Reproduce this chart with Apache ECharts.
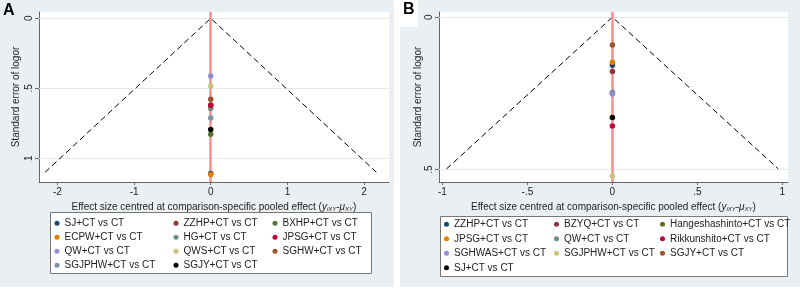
<!DOCTYPE html>
<html>
<head>
<meta charset="utf-8">
<script src="https://cdn.jsdelivr.net/npm/echarts@6/dist/echarts.min.js"></script>
<style>
  html, body { margin: 0; padding: 0; background: #ffffff; }
  #chart { width: 800px; height: 290px; }
</style>
</head>
<body>
<div id="chart"></div>
<script>
// panel A: treatments, standard errors (all effects centred at 0)
const namesA = ['SJ+CT vs CT', 'ZZHP+CT vs CT', 'BXHP+CT vs CT', 'ECPW+CT vs CT', 'HG+CT vs CT', 'JPSG+CT vs CT',
  'QW+CT vs CT', 'QWS+CT vs CT', 'SGHW+CT vs CT', 'SGJPHW+CT vs CT', 'SGJY+CT vs CT'];
const effectA = [0, 0, 0, 0, 0, 0, 0, 0, 0, 0, 0];
const seA = [1.11, 0.62, 0.829, 1.117, 0.645, 0.624, 0.412, 0.484, 0.579, 0.712, 0.795];
const funnelA = [[-2.16, 1.1], [0, 0], [2.16, 1.1]];
const xTicksA = [-2, -1, 0, 1, 2];
const yTicksA = [0, 0.5, 1];

// panel B
const namesB = ['ZZHP+CT vs CT', 'BZYQ+CT vs CT', 'Hangeshashinto+CT vs CT', 'JPSG+CT vs CT', 'QW+CT vs CT',
  'Rikkunshito+CT vs CT', 'SGHWAS+CT vs CT', 'SGJPHW+CT vs CT', 'SGJY+CT vs CT', 'SJ+CT vs CT'];
const effectB = [0, 0, 0, 0, 0, 0, 0, 0, 0, 0];
const seB = [0.158, 0.178, 0.25, 0.148, 0.247, 0.357, 0.252, 0.521, 0.091, 0.329];
const funnelB = [[-0.976, 0.498], [0, 0], [0.976, 0.498]];
const xTicksB = [-1, -0.5, 0, 0.5, 1];
const yTicksB = [0, 0.5];

// stata s2color-like palette
const palette = ['#1a476f', '#90353b', '#55752f', '#e37e00', '#6e8e84', '#c10534', '#938dd2', '#cac27e', '#a0522d', '#7b92a8', '#000000'];
const paletteB = ['#1a476f', '#90353b', '#55752f', '#e37e00', '#6e8e84', '#c10534', '#938dd2', '#cac27e', '#a0522d', '#000000'];

const FONT = '"Liberation Sans", Arial, sans-serif';
const TXT = '#222';
const fmt = (v) => String(v).replace(/^(-?)0\./, '$1.');

const xName = '{t|Effect size centred at comparison-specific pooled effect (}{i|y}{s|iXY}{t|-}{i|μ}{s|XY}{t|)}';
const xNameRich = {
  t: { fontSize: 10, color: TXT, fontFamily: FONT },
  i: { fontSize: 10, color: TXT, fontFamily: FONT, fontStyle: 'italic' },
  s: { fontSize: 6, color: TXT, fontFamily: FONT, fontStyle: 'italic', padding: [5, 0, 0, 0] },
};

function xAxis(idx, min, max, ticks) {
  return {
    gridIndex: idx, type: 'value', min, max,
    name: xName, nameLocation: 'middle', nameGap: 17,
    nameTextStyle: { rich: xNameRich },
    axisLine: { onZero: false, lineStyle: { color: '#666', width: 1 } },
    axisTick: { show: true, length: 3, customValues: ticks, lineStyle: { color: '#666' } },
    axisLabel: { customValues: ticks, formatter: fmt, fontSize: 10, color: TXT, fontFamily: FONT, margin: 5 },
    splitLine: { show: false },
  };
}

function yAxis(idx, min, max, ticks, gap) {
  return {
    gridIndex: idx, type: 'value', min, max, inverse: true,
    name: 'Standard error of logor', nameLocation: 'middle', nameGap: gap, nameRotate: 90,
    nameTextStyle: { fontSize: 10, color: TXT, fontFamily: FONT },
    axisLine: { onZero: false, lineStyle: { color: '#666', width: 1 } },
    axisTick: { show: true, length: 4, customValues: ticks, lineStyle: { color: '#666' } },
    axisLabel: { customValues: ticks, formatter: fmt, rotate: 90, fontSize: 10, color: TXT, fontFamily: FONT, margin: 5 },
    splitLine: { show: false },
  };
}

function panelSeries(idx, prefix, names, effects, ses, colors, funnel, yTicks) {
  const out = [];
  out.push({
    type: 'line', xAxisIndex: idx, yAxisIndex: idx, data: funnel, symbol: 'none', silent: true, z: 2,
    lineStyle: { color: '#000', width: 1, type: [6, 3.5] },
    markLine: {
      z: 1, silent: true, symbol: 'none', label: { show: false },
      lineStyle: { color: '#e3ebee', width: 1, type: 'solid' },
      data: yTicks.map((v) => ({ yAxis: v })),
    },
  });
  out.push({
    type: 'scatter', xAxisIndex: idx, yAxisIndex: idx, data: [], silent: true, z: 3,
    markLine: {
      z: 3, silent: true, symbol: 'none', label: { show: false },
      lineStyle: { color: '#f88e8e', width: 2.5, type: 'solid' },
      data: [{ xAxis: 0 }],
    },
  });
  names.forEach((n, i) => {
    out.push({
      name: prefix + n, type: 'scatter', xAxisIndex: idx, yAxisIndex: idx, z: 6,
      symbol: 'circle', symbolSize: 5.5, itemStyle: { color: colors[i], opacity: 1 },
      data: [[effects[i], ses[i]]],
    });
  });
  return out;
}

function legendCol(prefix, names, idxs, left, top, gap) {
  return {
    orient: 'vertical', left, top, padding: 0, itemGap: gap,
    itemWidth: 5, itemHeight: 5, icon: 'circle', selectedMode: false,
    formatter: (n) => n.slice(2),
    textStyle: { fontSize: 10, lineHeight: 12, color: TXT, fontFamily: FONT },
    data: idxs.map((i) => prefix + names[i]),
  };
}

const chart = echarts.init(document.getElementById('chart'), null, { renderer: 'canvas' });

const option = {
  animation: false,
  backgroundColor: '#ffffff',
  graphic: [
    { type: 'rect', z: -10, shape: { x: 0, y: 0, width: 394, height: 287 }, style: { fill: '#e9eff2' } },
    { type: 'rect', z: -10, shape: { x: 400, y: 0, width: 400, height: 287 }, style: { fill: '#e9eff2' } },
    { type: 'rect', z: -9, shape: { x: 400, y: 0, width: 18, height: 27 }, style: { fill: '#ffffff' } },
    { type: 'rect', z: -5, shape: { x: 50.5, y: 212.5, width: 321, height: 61 }, style: { fill: '#ffffff', stroke: '#777', lineWidth: 1 } },
    { type: 'rect', z: -5, shape: { x: 440.5, y: 216.5, width: 347, height: 60 }, style: { fill: '#ffffff', stroke: '#777', lineWidth: 1 } },
    { type: 'text', left: 3, top: 3, style: { text: 'A', fontSize: 16, fontWeight: 'bold', fill: '#000', fontFamily: FONT } },
    { type: 'text', left: 403, top: 2, style: { text: 'B', fontSize: 16, fontWeight: 'bold', fill: '#000', fontFamily: FONT } },
  ],
  grid: [
    { left: 39, top: 12, width: 350, height: 170, show: true, backgroundColor: '#ffffff', borderWidth: 0 },
    { left: 439, top: 12, width: 349, height: 170, show: true, backgroundColor: '#ffffff', borderWidth: 0 },
  ],
  xAxis: [xAxis(0, -2.24, 2.325, xTicksA), xAxis(1, -1.02, 1.033, xTicksB)],
  yAxis: [yAxis(0, -0.045, 1.17, yTicksA, 18), yAxis(1, -0.017, 0.541, yTicksB, 13)],
  legend: [
    legendCol('A|', namesA, [0, 3, 6, 9], 54.5, 217.3, 2),
    legendCol('A|', namesA, [1, 4, 7, 10], 173.5, 217.3, 2),
    legendCol('A|', namesA, [2, 5, 8], 272.5, 217.3, 2),
    legendCol('B|', namesB, [0, 3, 6, 9], 444, 218.3, 2.5),
    legendCol('B|', namesB, [1, 4, 7], 554, 218.3, 2.5),
    legendCol('B|', namesB, [2, 5, 8], 660, 218.3, 2.5),
  ],
  series: [
    ...panelSeries(0, 'A|', namesA, effectA, seA, palette, funnelA, yTicksA),
    ...panelSeries(1, 'B|', namesB, effectB, seB, paletteB, funnelB, yTicksB),
  ],
};

chart.setOption(option);
</script>
</body>
</html>
